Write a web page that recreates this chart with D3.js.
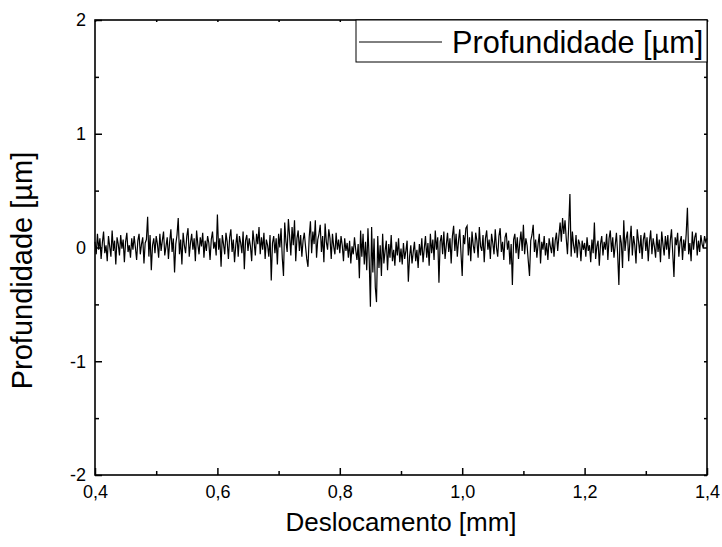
<!DOCTYPE html>
<html>
<head>
<meta charset="utf-8">
<script src="https://cdn.jsdelivr.net/npm/d3@7"></script>
<style>
  html, body { margin: 0; padding: 0; background: #fff; }
  svg { display: block; font-family: Arial, "Liberation Sans", sans-serif; }
</style>
</head>
<body>
<svg id="chart" width="722" height="547"></svg>
<script>
'use strict';

const xStart = 0.4;
const xStep  = 0.002;
const depth = [
  // 0.400 – 0.498
  0.05, -0.06, 0.12, -0.02, 0.08, -0.10, 0.04, 0.14, -0.05, 0.02,
  -0.12, 0.10, 0.01, -0.08, 0.15, -0.03, 0.06, -0.15, 0.09, 0.03,
  -0.07, 0.11, -0.01, 0.07, -0.13, 0.05, 0.13, -0.04, 0.02, -0.09,
  0.08, -0.02, 0.10, 0.00, -0.11, 0.06, 0.12, -0.06, 0.03, 0.09,
  -0.14, 0.04, 0.07, 0.27, -0.08, 0.11, -0.20, 0.02, 0.08, -0.05,
  // 0.500 – 0.598
  0.10, 0.03, -0.09, 0.12, -0.03, 0.06, 0.14, -0.07, 0.01, 0.09,
  -0.10, 0.05, 0.16, -0.04, 0.08, -0.22, 0.03, 0.11, 0.26, -0.06,
  0.07, -0.15, 0.13, 0.02, -0.05, 0.10, 0.17, -0.08, 0.04, 0.12,
  -0.02, 0.08, -0.12, 0.15, 0.03, -0.06, 0.09, 0.01, 0.13, -0.09,
  0.06, -0.03, 0.10, 0.04, -0.11, 0.07, 0.14, -0.01, 0.05, -0.07,
  // 0.600 – 0.698
  0.29, -0.02, 0.08, -0.17, 0.11, 0.03, -0.06, 0.13, 0.05, -0.10,
  0.09, 0.16, -0.04, 0.07, -0.13, 0.02, 0.12, -0.08, 0.10, 0.04,
  -0.05, 0.14, -0.19, 0.06, 0.11, -0.03, 0.08, 0.01, -0.12, 0.15,
  0.05, -0.07, 0.12, 0.03, 0.18, -0.06, 0.09, -0.02, 0.13, -0.10,
  0.07, 0.02, -0.08, 0.11, -0.29, 0.04, 0.10, -0.05, 0.08, -0.15,
  // 0.700 – 0.798
  0.12, 0.00, 0.17, -0.09, -0.25, 0.22, 0.05, -0.04, 0.25, 0.10,
  -0.07, 0.18, 0.02, 0.24, -0.12, 0.08, 0.15, -0.03, 0.11, -0.08,
  0.06, 0.13, 0.01, -0.10, -0.17, 0.09, 0.23, -0.05, 0.14, 0.03,
  0.24, -0.09, 0.07, 0.12, 0.20, -0.04, 0.10, -0.13, 0.21, 0.05,
  -0.02, 0.16, 0.08, -0.10, 0.12, 0.01, -0.06, 0.13, -0.02, 0.07,
  // 0.800 – 0.898
  -0.05, 0.10, 0.02, -0.12, 0.08, -0.03, 0.04, -0.09, 0.06, -0.14,
  0.01, -0.06, 0.09, -0.02, -0.11, 0.03, -0.27, 0.15, -0.08, 0.12,
  -0.15, 0.05, -0.20, 0.17, -0.10, -0.52, 0.18, -0.22, 0.08, -0.35,
  -0.48, 0.10, -0.18, 0.02, -0.25, 0.12, -0.14, -0.03, 0.06, -0.20,
  0.03, -0.09, 0.11, -0.12, -0.02, -0.16, 0.05, -0.07, 0.08, -0.13,
  // 0.900 – 0.998
  -0.01, -0.15, 0.04, -0.10, -0.03, 0.06, -0.30, -0.08, 0.02, -0.14,
  -0.04, 0.05, -0.12, -0.02, -0.18, 0.03, -0.07, 0.08, -0.13, -0.01,
  0.10, -0.09, 0.04, -0.16, 0.12, -0.05, 0.07, -0.11, 0.15, -0.02,
  0.09, -0.31, 0.05, 0.11, -0.06, 0.14, -0.10, 0.02, 0.13, -0.04,
  0.08, -0.14, 0.10, 0.19, -0.03, 0.12, -0.08, 0.06, 0.16, -0.05,
  // 1.000 – 1.098
  -0.25, 0.11, 0.03, 0.17, 0.19, -0.07, 0.09, -0.12, 0.14, 0.02,
  -0.05, 0.13, 0.06, -0.09, 0.18, 0.01, -0.03, 0.11, -0.13, 0.08,
  0.15, -0.02, 0.07, -0.10, 0.12, 0.04, -0.06, 0.16, 0.00, -0.08,
  0.10, 0.17, -0.04, 0.05, -0.11, 0.09, 0.13, -0.02, 0.06, -0.15,
  0.03, -0.33, 0.07, 0.12, -0.05, 0.09, -0.10, 0.04, 0.14, -0.03,
  // 1.100 – 1.198
  0.20, -0.06, 0.08, 0.02, -0.12, -0.25, 0.06, 0.11, 0.20, -0.04,
  0.07, -0.09, 0.03, 0.12, -0.14, 0.05, -0.02, 0.10, -0.07, 0.04,
  -0.11, 0.08, 0.01, -0.05, 0.09, -0.08, 0.06, 0.13, -0.03, 0.10,
  0.22, 0.05, 0.26, 0.12, 0.24, 0.08, -0.06, 0.18, 0.47, -0.08,
  0.14, 0.02, -0.05, 0.11, -0.09, 0.07, 0.03, -0.12, 0.06, -0.02,
  // 1.200 – 1.298
  0.04, -0.08, 0.09, -0.03, 0.02, -0.13, 0.07, -0.05, 0.22, -0.10,
  0.01, 0.06, -0.16, 0.03, 0.10, -0.07, 0.05, -0.02, 0.12, -0.11,
  0.08, 0.15, -0.04, 0.09, -0.09, 0.02, 0.13, -0.06, -0.33, 0.11,
  0.04, -0.18, 0.24, -0.03, 0.08, 0.14, -0.12, 0.05, 0.19, -0.07,
  0.10, 0.02, -0.14, 0.16, 0.06, -0.05, 0.11, -0.10, 0.07, 0.13,
  // 1.300 – 1.400
  -0.03, 0.09, -0.12, 0.05, 0.15, -0.06, 0.08, 0.01, -0.09, 0.12,
  -0.04, 0.07, -0.13, 0.14, 0.03, -0.07, 0.10, -0.02, 0.11, -0.10,
  0.06, 0.16, -0.05, -0.26, 0.09, 0.02, 0.13, -0.08, 0.05, 0.10,
  -0.11, 0.07, -0.03, 0.12, 0.35, -0.06, 0.04, -0.12, 0.14, -0.02,
  0.09, 0.13, -0.07, 0.06, -0.04, 0.11, 0.03, -0.01, 0.10, 0.05,
  0.08
];

const xMajorTicks = [0.4, 0.6, 0.8, 1.0, 1.2, 1.4];
const xMinorTicks = [0.5, 0.7, 0.9, 1.1, 1.3];
const yMajorTicks = [-2, -1, 0, 1, 2];
const yMinorTicks = [-1.5, -0.5, 0.5, 1.5];

const xTitle = 'Deslocamento [mm]';
const yTitle = 'Profundidade [µm]';
const seriesName = 'Profundidade [µm]';

// ── Layout ────────────────────────────────────────────────
const plot = { left: 95, right: 707, top: 20, bottom: 475 };

const svg = d3.select('#chart');

const x = d3.scaleLinear().domain([0.4, 1.4]).range([plot.left, plot.right]);
const y = d3.scaleLinear().domain([-2, 2]).range([plot.bottom, plot.top]);

const fmtX = d => d.toFixed(1).replace('.', ',');
const fmtY = d => String(d);   // plain hyphen minus, as in the original

const points = depth.map((v, i) => ({ x: xStart + i * xStep, y: v }));

// ── Line ──────────────────────────────────────────────────
const line = d3.line().x(d => x(d.x)).y(d => y(d.y));

svg.append('path')
  .datum(points)
  .attr('d', line)
  .attr('fill', 'none')
  .attr('stroke', '#000')
  .attr('stroke-width', 1.2);

// ── Axes (ticks pointing inward) ──────────────────────────
svg.append('g').attr('transform', `translate(0,${plot.bottom})`)
  .call(d3.axisBottom(x).tickValues(xMajorTicks).tickSize(-7).tickPadding(10).tickFormat(fmtX));
svg.append('g').attr('transform', `translate(0,${plot.bottom})`)
  .call(d3.axisBottom(x).tickValues(xMinorTicks).tickSize(-4).tickFormat(''));

svg.append('g').attr('transform', `translate(${plot.left},0)`)
  .call(d3.axisLeft(y).tickValues(yMajorTicks).tickSize(-7).tickPadding(9).tickFormat(fmtY));
svg.append('g').attr('transform', `translate(${plot.left},0)`)
  .call(d3.axisLeft(y).tickValues(yMinorTicks).tickSize(-4).tickFormat(''));

// top and right: short ticks only
svg.append('g').attr('transform', `translate(0,${plot.top})`)
  .call(d3.axisTop(x).tickValues(xMajorTicks.concat(xMinorTicks)).tickSize(-2).tickFormat(''));
svg.append('g').attr('transform', `translate(${plot.right},0)`)
  .call(d3.axisRight(y).tickValues(yMajorTicks.concat(yMinorTicks)).tickSize(-3).tickFormat(''));

svg.selectAll('.domain').remove();
svg.selectAll('.tick line').attr('stroke', '#000').attr('stroke-width', 1.5);
svg.selectAll('.tick text')
  .attr('fill', '#000')
  .attr('font-size', 18)
  .attr('font-family', 'Arial, "Liberation Sans", sans-serif');

// frame
svg.append('rect')
  .attr('x', plot.left).attr('y', plot.top)
  .attr('width', plot.right - plot.left)
  .attr('height', plot.bottom - plot.top)
  .attr('fill', 'none')
  .attr('stroke', '#000')
  .attr('stroke-width', 1.6);

// ── Titles ────────────────────────────────────────────────
svg.append('text')
  .attr('x', (plot.left + plot.right) / 2)
  .attr('y', 531)
  .attr('text-anchor', 'middle')
  .attr('font-size', 26)
  .text(xTitle);

svg.append('text')
  .attr('transform', `translate(32,${(plot.top + plot.bottom) / 2 + 23}) rotate(-90)`)
  .attr('text-anchor', 'middle')
  .attr('font-size', 29)
  .text(yTitle);

// ── Legend ────────────────────────────────────────────────
const legend = svg.append('g');
legend.append('rect')
  .attr('x', 356).attr('y', plot.top)
  .attr('width', plot.right - 356).attr('height', 42)
  .attr('fill', '#fff')
  .attr('stroke', '#000')
  .attr('stroke-width', 1);
legend.append('line')
  .attr('x1', 359).attr('x2', 442)
  .attr('y1', 42).attr('y2', 42)
  .attr('stroke', '#000')
  .attr('stroke-width', 1);
legend.append('text')
  .attr('x', 452).attr('y', 53)
  .attr('font-size', 30.7)
  .text(seriesName);
</script>
</body>
</html>
